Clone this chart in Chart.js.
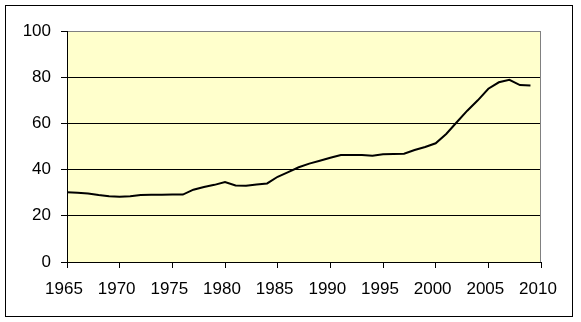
<!DOCTYPE html>
<html>
<head>
<meta charset="utf-8">
<script src="https://cdn.jsdelivr.net/npm/chart.js@4"></script>
<style>
html,body{margin:0;padding:0;background:#fff;}
#wrap{width:581px;height:322px;position:relative;}
</style>
</head>
<body>
<div id="wrap"><canvas id="c" width="581" height="322"></canvas></div>
<script>
const years = [1965,1966,1967,1968,1969,1970,1971,1972,1973,1974,1975,1976,1977,1978,1979,1980,1981,1982,1983,1984,1985,1986,1987,1988,1989,1990,1991,1992,1993,1994,1995,1996,1997,1998,1999,2000,2001,2002,2003,2004,2005,2006,2007,2008,2009];
const values = [30.2,30.0,29.7,29.0,28.5,28.2,28.5,29.0,29.1,29.1,29.2,29.2,31.3,32.5,33.4,34.6,33.1,33.0,33.6,34.0,36.9,38.9,41.0,42.6,43.8,45.1,46.3,46.3,46.3,46.0,46.6,46.8,46.9,48.5,49.8,51.4,55.4,60.5,65.5,70.0,75.0,77.8,78.9,76.6,76.4];
const yTicks = [0,20,40,60,80,100];
const xTicks = [1965,1970,1975,1980,1985,1990,1995,2000,2005,2010];

const decor = {
  id: 'decor',
  beforeDraw(chart) {
    const ctx = chart.ctx, a = chart.chartArea;
    ctx.save();
    ctx.fillStyle = '#ffffff';
    ctx.fillRect(0, 0, chart.width, chart.height);
    ctx.fillStyle = '#FFFFCC';
    ctx.fillRect(a.left, a.top, a.right - a.left, a.bottom - a.top);
    ctx.restore();
  },
  afterDraw(chart) {
    const ctx = chart.ctx, a = chart.chartArea;
    ctx.save();
    ctx.strokeStyle = '#808080';
    ctx.lineWidth = 1;
    const rx = Math.round(a.right) - 0.5;
    ctx.beginPath();
    ctx.moveTo(rx, Math.round(a.top));
    ctx.lineTo(rx, Math.round(a.bottom));
    ctx.stroke();
    ctx.strokeStyle = '#000000';
    ctx.strokeRect(5.5, 5.5, 567, 311);
    ctx.restore();
  }
};

new Chart(document.getElementById('c'), {
  type: 'line',
  data: {
    datasets: [{
      data: years.map((y, i) => ({x: y, y: values[i]})),
      borderColor: '#000000',
      borderWidth: 2,
      pointRadius: 0,
      tension: 0,
      fill: false
    }]
  },
  options: {
    responsive: false,
    animation: false,
    devicePixelRatio: 1,
    layout: {padding: {left: 0, top: 31, right: 40, bottom: 0}},
    plugins: {legend: {display: false}, tooltip: {enabled: false}},
    scales: {
      x: {
        type: 'linear',
        min: 1965, max: 2010,
        afterFit(s) { s.height = 60; },
        afterBuildTicks(s) { s.ticks = xTicks.map(v => ({value: v})); },
        grid: {drawOnChartArea: false, tickLength: 6, tickColor: '#000000', color: '#000000'},
        border: {color: '#000000', width: 1},
        ticks: {color: '#000000', font: {family: 'Liberation Sans, Arial', size: 17}, padding: 11, labelOffset: -3, maxRotation: 0, autoSkip: false,
                callback: v => String(v)}
      },
      y: {
        min: 0, max: 100,
        afterFit(s) { s.width = 67; },
        afterBuildTicks(s) { s.ticks = yTicks.map(v => ({value: v})); },
        grid: {color: c => (c.tick && c.tick.value === 100) ? '#808080' : '#000000', tickLength: 6, tickColor: '#000000'},
        border: {color: '#000000', width: 1},
        ticks: {color: '#000000', font: {family: 'Liberation Sans, Arial', size: 17}, padding: 10}
      }
    }
  },
  plugins: [decor]
});
</script>
</body>
</html>
